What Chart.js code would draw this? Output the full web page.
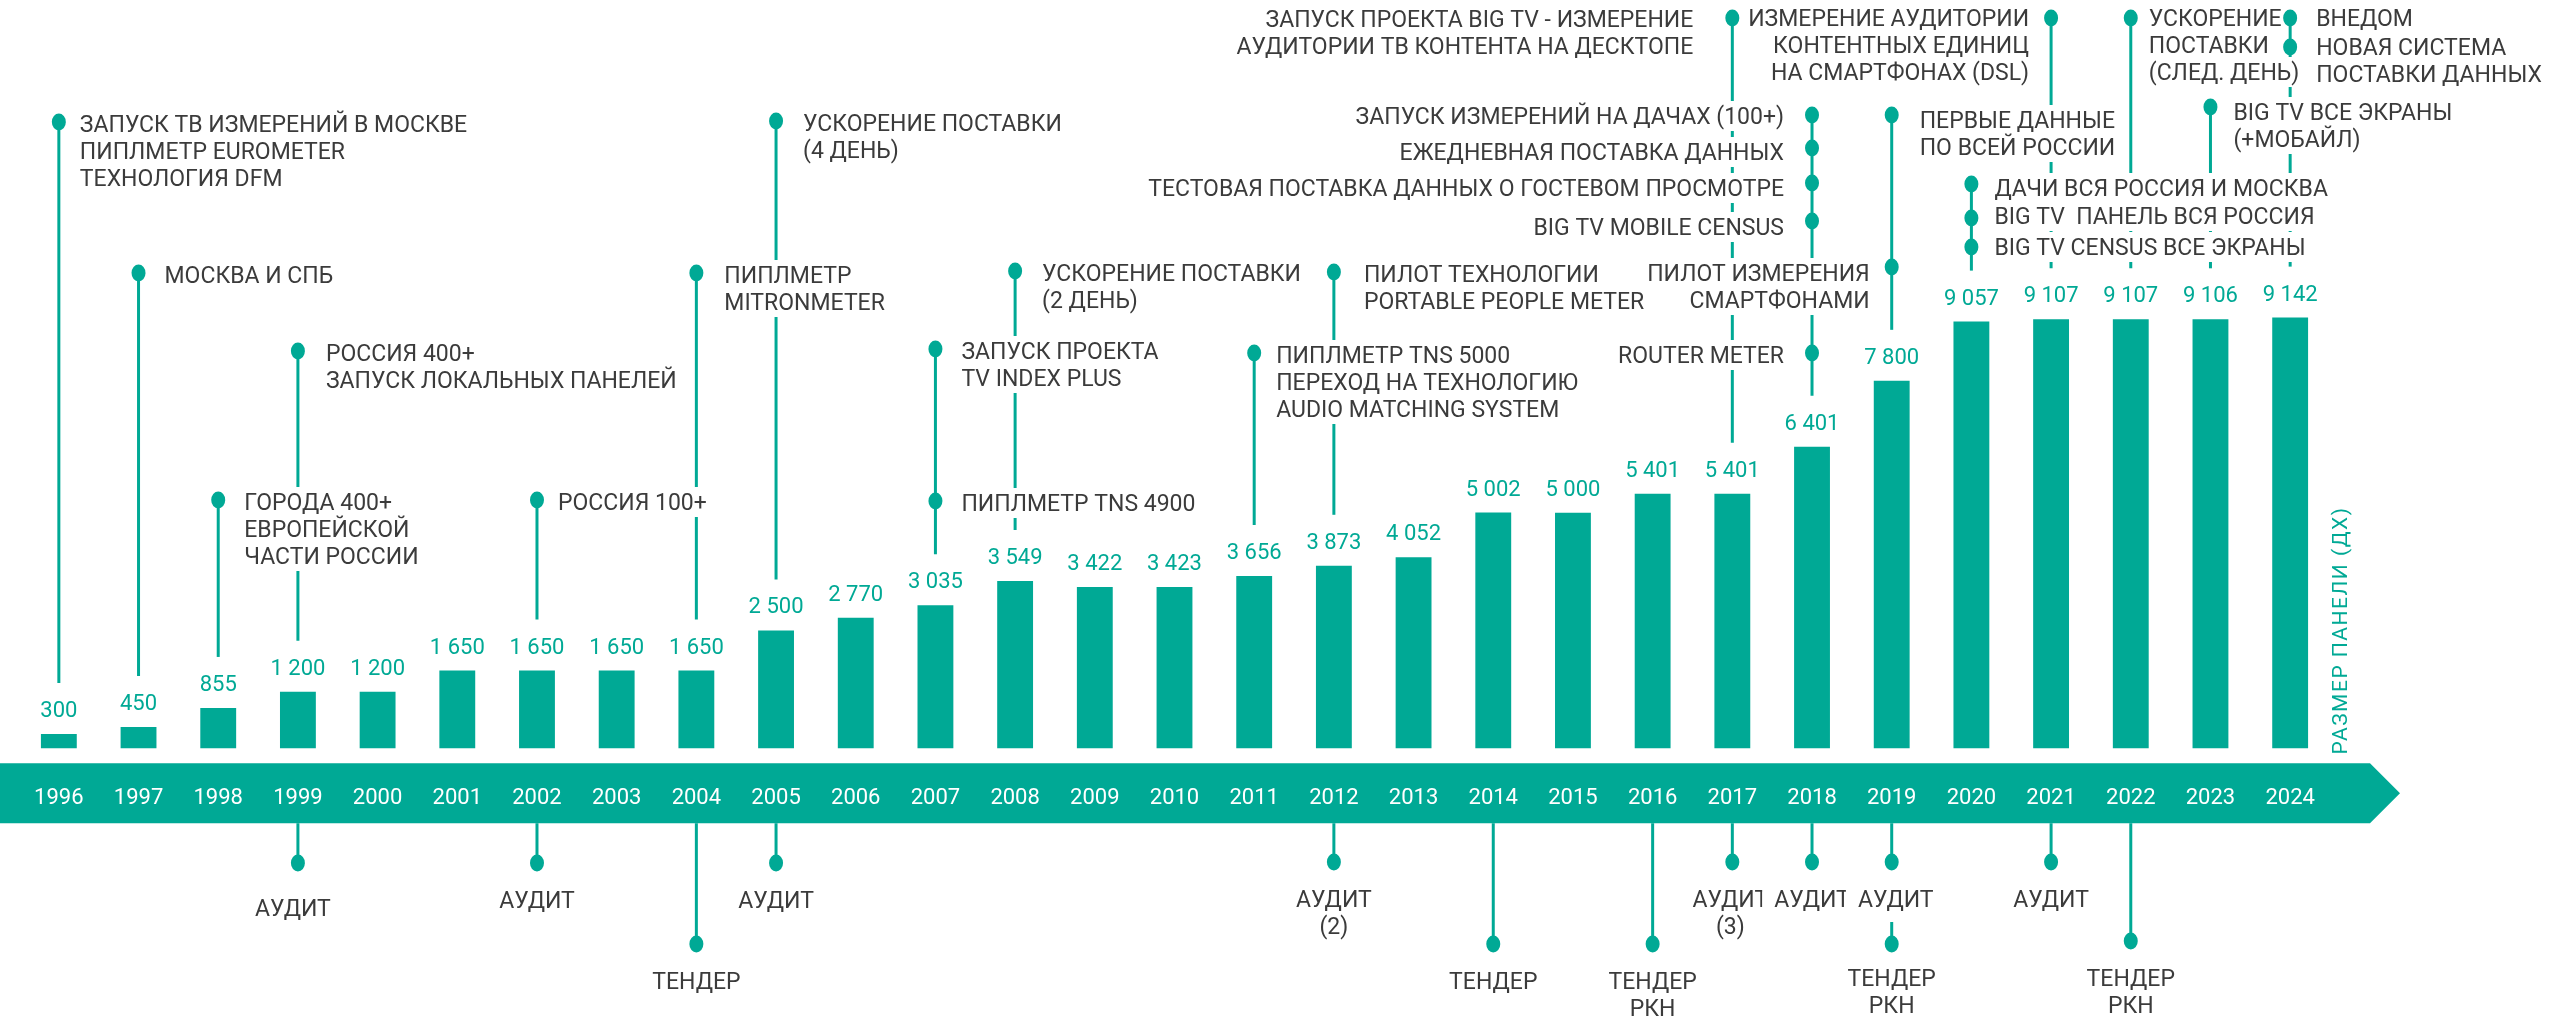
<!DOCTYPE html>
<html lang="ru">
<head>
<meta charset="utf-8">
<title>Размер панели</title>
<script src="https://cdn.jsdelivr.net/npm/chart.js@4/dist/chart.umd.min.js"></script>
<style>
  html, body { margin: 0; padding: 0; background: #fff; }
  #wrap { width: 2552px; height: 1018px; position: relative; }
</style>
</head>
<body>
<div id="wrap"><canvas id="panelChart"></canvas></div>
<script>
const years = ['1996', '1997', '1998', '1999', '2000', '2001', '2002', '2003', '2004', '2005',
               '2006', '2007', '2008', '2009', '2010', '2011', '2012', '2013', '2014', '2015',
               '2016', '2017', '2018', '2019', '2020', '2021', '2022', '2023', '2024'];
const panelSize = [300, 450, 855, 1200, 1200, 1650, 1650, 1650, 1650, 2500,
                   2770, 3035, 3549, 3422, 3423, 3656, 3873, 4052, 5002, 5000,
                   5401, 5401, 6401, 7800, 9057, 9107, 9107, 9106, 9142];
const axisTitle = 'РАЗМЕР ПАНЕЛИ (ДХ)';

// callouts above the bars: y = dot level (px), dx = text offset (negative = text on the left)
const topNotes = [
    { year: '1996', marks: [{ y: 122, dx: 21, lines: ['ЗАПУСК ТВ ИЗМЕРЕНИЙ В МОСКВЕ', 'ПИПЛМЕТР EUROMETER', 'ТЕХНОЛОГИЯ DFM'] }] },
    { year: '1997', marks: [{ y: 273, dx: 26, lines: ['МОСКВА И СПБ'] }] },
    { year: '1998', marks: [{ y: 500, dx: 26, lines: ['ГОРОДА 400+', 'ЕВРОПЕЙСКОЙ', 'ЧАСТИ РОССИИ'] }] },
    { year: '1999', marks: [{ y: 351, dx: 28, lines: ['РОССИЯ 400+', 'ЗАПУСК ЛОКАЛЬНЫХ ПАНЕЛЕЙ'] }] },
    { year: '2002', marks: [{ y: 500, dx: 21, lines: ['РОССИЯ 100+'] }] },
    { year: '2004', marks: [{ y: 273, dx: 28, lines: ['ПИПЛМЕТР', 'MITRONMETER'] }] },
    { year: '2005', marks: [{ y: 121, dx: 27, lines: ['УСКОРЕНИЕ ПОСТАВКИ', '(4 ДЕНЬ)'] }] },
    { year: '2007', marks: [
        { y: 349, dx: 26, lines: ['ЗАПУСК ПРОЕКТА', 'TV INDEX PLUS'] },
        { y: 501, dx: 26, lines: ['ПИПЛМЕТР TNS 4900'] }] },
    { year: '2008', marks: [{ y: 271, dx: 27, lines: ['УСКОРЕНИЕ ПОСТАВКИ', '(2 ДЕНЬ)'] }] },
    { year: '2011', marks: [{ y: 353, dx: 22, lines: ['ПИПЛМЕТР TNS 5000', 'ПЕРЕХОД НА ТЕХНОЛОГИЮ', 'AUDIO MATCHING SYSTEM'] }] },
    { year: '2012', marks: [{ y: 272, dx: 30, lines: ['ПИЛОТ ТЕХНОЛОГИИ', 'PORTABLE PEOPLE METER'] }] },
    { year: '2017', marks: [{ y: 18, dx: -39, ty: 1, lines: ['ЗАПУСК ПРОЕКТА BIG TV - ИЗМЕРЕНИЕ', 'АУДИТОРИИ ТВ КОНТЕНТА НА ДЕСКТОПЕ'] }] },
    { year: '2018', marks: [
        { y: 115, dx: -28, ty: 1, lines: ['ЗАПУСК ИЗМЕРЕНИЙ НА ДАЧАХ (100+)'] },
        { y: 148, dx: -28, ty: 4, lines: ['ЕЖЕДНЕВНАЯ ПОСТАВКА ДАННЫХ'] },
        { y: 183, dx: -28, ty: 5, lines: ['ТЕСТОВАЯ ПОСТАВКА ДАННЫХ О ГОСТЕВОМ ПРОСМОТРЕ'] },
        { y: 221, dx: -28, ty: 6, lines: ['BIG TV MOBILE CENSUS'] },
        { y: 353, dx: -28, ty: 2, lines: ['ROUTER METER'] }] },
    { year: '2019', marks: [
        { y: 115, dx: 28, ty: 5, lines: ['ПЕРВЫЕ ДАННЫЕ', 'ПО ВСЕЙ РОССИИ'] },
        { y: 267, dx: -22, ty: 6, lines: ['ПИЛОТ ИЗМЕРЕНИЯ', 'СМАРТФОНАМИ'] }] },
    { year: '2020', marks: [
        { y: 184, dx: 23, ty: 4, lines: ['ДАЧИ ВСЯ РОССИЯ И МОСКВА'] },
        { y: 218, dx: 23, ty: -2, lines: ['BIG TV  ПАНЕЛЬ ВСЯ РОССИЯ'] },
        { y: 247, dx: 23, ty: 0, lines: ['BIG TV CENSUS ВСЕ ЭКРАНЫ'] }] },
    { year: '2021', marks: [{ y: 18, dx: -22, ty: 0, lines: ['ИЗМЕРЕНИЕ АУДИТОРИИ', 'КОНТЕНТНЫХ ЕДИНИЦ', 'НА СМАРТФОНАХ (DSL)'] }] },
    { year: '2022', marks: [{ y: 18, dx: 18, ty: 0, lines: ['УСКОРЕНИЕ', 'ПОСТАВКИ', '(СЛЕД. ДЕНЬ)'] }] },
    { year: '2023', marks: [{ y: 107, dx: 23, ty: 5, lines: ['BIG TV ВСЕ ЭКРАНЫ', '(+МОБАЙЛ)'] }] },
    { year: '2024', marks: [
        { y: 18, dx: 26, ty: 0, lines: ['ВНЕДОМ'] },
        { y: 47, dx: 26, ty: 0, lines: ['НОВАЯ СИСТЕМА', 'ПОСТАВКИ ДАННЫХ'] }] }
];

// callouts under the timeline: y = dot level (px), from = where the stem starts
const bottomNotes = [
    { year: '1999', y: 863, ty: 45, dx: -5, lines: ['АУДИТ'] },
    { year: '2002', y: 863, lines: ['АУДИТ'] },
    { year: '2004', y: 944, lines: ['ТЕНДЕР'] },
    { year: '2005', y: 863, lines: ['АУДИТ'] },
    { year: '2012', y: 862, lines: ['АУДИТ', '(2)'] },
    { year: '2014', y: 944, lines: ['ТЕНДЕР'] },
    { year: '2016', y: 944, lines: ['ТЕНДЕР', 'РКН'] },
    { year: '2017', y: 862, dx: -2, lines: ['АУДИТ', '(3)'] },
    { year: '2018', y: 862, lines: ['АУДИТ'] },
    { year: '2019', y: 862, dx: 4, lines: ['АУДИТ'] },
    { year: '2019', y: 944, from: 922, ty: 34, lines: ['ТЕНДЕР', 'РКН'] },
    { year: '2021', y: 862, lines: ['АУДИТ'] },
    { year: '2022', y: 941, ty: 37, lines: ['ТЕНДЕР', 'РКН'] }
];

const TEAL = '#00a995';
const INK = '#3b3b3b';
const FONT = 'Roboto, "Open Sans", sans-serif';
const NOTE_SIZE = 23;
const LINE_H = 27;

function fmt(v) {
    return String(v).replace(/\B(?=(\d{3})+(?!\d))/g, ' ');
}

function dot(ctx, x, y) {
    ctx.beginPath();
    ctx.ellipse(x, y, 7, 8.5, 0, 0, Math.PI * 2);
    ctx.fill();
}

function stem(ctx, x, y1, y2) {
    ctx.beginPath();
    ctx.moveTo(x, y1);
    ctx.lineTo(x, y2);
    ctx.stroke();
}

function boxLeft(ctx, o) {
    const w = ctx.measureText(o.t).width;
    const left = o.align === 'right' ? o.x - w : o.align === 'center' ? o.x - w / 2 : o.x;
    return [left, w];
}

function caption(ctx, o) {
    ctx.textAlign = o.align;
    ctx.fillText(o.t, o.x, o.y + NOTE_SIZE * 0.355);
}

const timeline = {
    id: 'timeline',
    beforeDatasetsDraw(chart) {
        const ctx = chart.ctx;
        const xs = chart.scales.x;
        const y0 = chart.scales.y.getPixelForValue(0);
        const top = y0 + 15, h = 60, end = chart.chartArea.right + 40;
        ctx.save();
        ctx.fillStyle = TEAL;
        ctx.beginPath();
        ctx.moveTo(0, top);
        ctx.lineTo(end, top);
        ctx.lineTo(end + 30, top + h / 2);
        ctx.lineTo(end, top + h);
        ctx.lineTo(0, top + h);
        ctx.closePath();
        ctx.fill();
        ctx.fillStyle = '#ffffff';
        ctx.font = '22px ' + FONT;
        ctx.textAlign = 'center';
        ctx.textBaseline = 'alphabetic';
        years.forEach((yr, i) => {
            ctx.fillText(yr, xs.getPixelForValue(i), top + h / 2 + 11);
        });
        ctx.restore();
    },
    afterDatasetsDraw(chart) {
        const ctx = chart.ctx;
        const xs = chart.scales.x;
        const ys = chart.scales.y;
        const bars = chart.getDatasetMeta(0).data;
        const bandBottom = ys.getPixelForValue(0) + 75;
        const topTexts = [];
        const lowTexts = [];
        const dots = [];

        ctx.save();
        ctx.strokeStyle = TEAL;
        ctx.fillStyle = TEAL;
        ctx.lineWidth = 3;
        ctx.font = NOTE_SIZE + 'px ' + FONT;
        ctx.textBaseline = 'alphabetic';

        topNotes.forEach(n => {
            const i = years.indexOf(n.year);
            const x = xs.getPixelForValue(i);
            const lineEnd = bars[i].y - 51;
            const first = Math.min(...n.marks.map(m => m.y));
            stem(ctx, x, first, lineEnd);
            n.marks.forEach(m => {
                dots.push([x, m.y]);
                const ty = m.y + (m.ty === undefined ? 2 : m.ty);
                m.lines.forEach((t, k) => {
                    topTexts.push({ t, x: x + m.dx, y: ty + k * LINE_H, align: m.dx < 0 ? 'right' : 'left' });
                });
            });
        });

        bottomNotes.forEach(n => {
            const x = xs.getPixelForValue(years.indexOf(n.year));
            stem(ctx, x, n.from || bandBottom, n.y);
            dots.push([x, n.y]);
            const ty = n.y + (n.ty === undefined ? 37 : n.ty);
            n.lines.forEach((t, k) => {
                lowTexts.push({ t, x: x + (n.dx || 0), y: ty + k * LINE_H, align: 'center' });
            });
        });

        // white boxes behind the captions break the stems they cross
        ctx.fillStyle = '#ffffff';
        topTexts.forEach(o => {
            const [left, w] = boxLeft(ctx, o);
            ctx.fillRect(left - 5, o.y - 15, w + 10, 30);
        });
        ctx.fillStyle = INK;
        topTexts.forEach(o => caption(ctx, o));

        // lower captions one by one, so a box may nip its left neighbour
        lowTexts.forEach(o => {
            const [left, w] = boxLeft(ctx, o);
            ctx.fillStyle = '#ffffff';
            ctx.fillRect(left - 12, o.y - 15, w + 24, 30);
            ctx.fillStyle = INK;
            caption(ctx, o);
        });

        ctx.fillStyle = TEAL;
        dots.forEach(d => dot(ctx, d[0], d[1]));

        // value labels above bars
        ctx.font = '22px ' + FONT;
        ctx.textAlign = 'center';
        bars.forEach((b, i) => {
            ctx.fillText(fmt(panelSize[i]), b.x, b.y - 25 + 8);
        });

        // vertical axis caption
        ctx.translate(chart.chartArea.right + 12, ys.getPixelForValue(2500));
        ctx.rotate(-Math.PI / 2);
        ctx.font = '21px ' + FONT;
        ctx.letterSpacing = '1.5px';
        ctx.textAlign = 'center';
        ctx.textBaseline = 'middle';
        ctx.fillText(axisTitle, 0, 0);
        ctx.restore();
    }
};

const ctx = document.getElementById('panelChart').getContext('2d');

const panelChart = new Chart(ctx, {
    type: 'bar',
    data: {
        labels: years,
        datasets: [{
            label: axisTitle,
            data: panelSize,
            backgroundColor: TEAL,
            borderWidth: 0,
            barPercentage: 0.45,
            categoryPercentage: 1.0
        }]
    },
    options: {
        responsive: true,
        maintainAspectRatio: false,
        animation: false,
        devicePixelRatio: 1,
        layout: { padding: { top: 4, bottom: 6, left: 19, right: 222 } },
        scales: {
            x: { display: false },
            y: { display: false, min: -5600, max: 15800 }
        },
        plugins: {
            legend: { display: false },
            tooltip: { enabled: false }
        }
    },
    plugins: [timeline]
});
</script>
</body>
</html>
